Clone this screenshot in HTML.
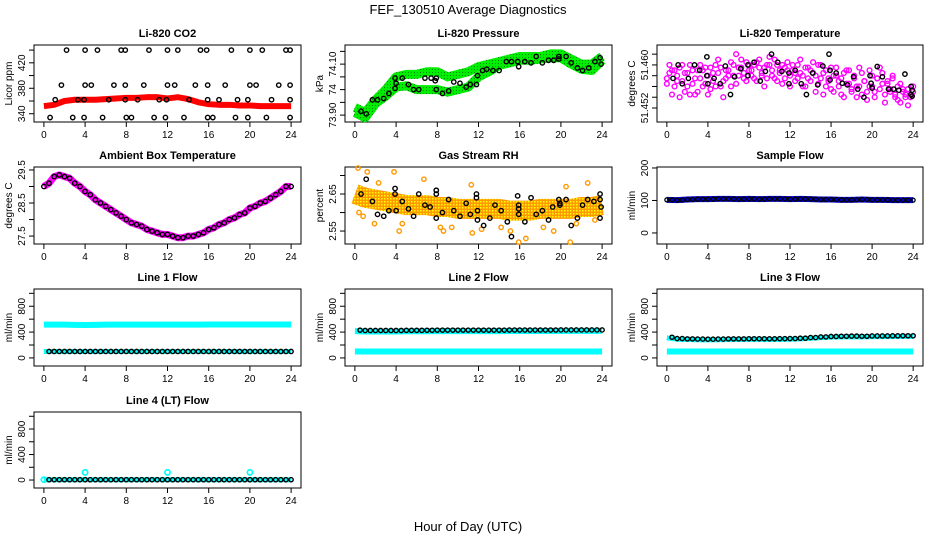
<!DOCTYPE html>
<html><head><meta charset="utf-8"><style>
html,body{margin:0;padding:0;background:#fff;}
svg{display:block;font-family:"Liberation Sans",Arial,sans-serif;}
</style></head><body>
<svg id="chart" width="936" height="540" viewBox="0 0 936 540" xmlns="http://www.w3.org/2000/svg">
<defs>
<pattern id="rhpat" width="3" height="3" patternUnits="userSpaceOnUse"><rect width="3" height="3" fill="#ff9900"/><rect width="1.5" height="1.5" fill="#ffff00"/></pattern>
<pattern id="grpat" width="3" height="3" patternUnits="userSpaceOnUse"><rect width="3" height="3" fill="#00ee00"/><rect width="1" height="1" fill="#008800"/></pattern>
</defs>
<text x="468" y="14" text-anchor="middle" font-size="13">FEF_130510  Average Diagnostics</text>
<text x="468" y="531" text-anchor="middle" font-size="13">Hour of Day (UTC)</text>
</svg>
<script>
// ---- data ----
const xTicks = [0,4,8,12,16,20,24];
const co2T = [2.2,4,5.2,7.5,7.9,10.2,12,13,15.2,15.8,18.2,20,21.2,23.5,23.9, 1.7,4,4.6,6.8,7.9,9.7,12,12.7,14.7,15.9,17.6,20,20.6,22.8,23.9, 1.1,3.3,3.9,6.3,7.9,9.1,11.2,11.9,14.1,15.9,17,18.8,19.8,22.1,23.9, 0.6,2.8,3.9,5.7,8,8.5,10.7,11.8,13.6,15.9,16.4,18.6,19.8,21.6,23.9];
const co2V = [440,440,440,440,440,440,440,440,440,440,440,440,440,440,440, 385,385,385,385,385,385,385,385,385,385,385,385,385,385,385, 362,362,362,362,362,362,362,362,362,362,362,362,362,362,362, 334,334,334,334,334,334,334,334,334,334,334,334,334,334,334];
const co2Band = [352,354,360,362,362,362,363,364,365,365,366,366,364,366,363,358,355,354,354,353,353,352,352,352,352];
const presUpper = [73.93,73.91,73.96,74.00,74.05,74.06,74.06,74.07,74.07,74.05,74.06,74.07,74.09,74.10,74.11,74.12,74.13,74.13,74.13,74.14,74.14,74.12,74.10,74.10,74.13];
const presLower = [73.91,73.89,73.945,73.975,74.01,74.015,74.00,74.00,74.00,73.99,74.00,74.01,74.05,74.07,74.095,74.105,74.115,74.115,74.12,74.125,74.125,74.10,74.08,74.075,74.115];
const presT = [0.6,1.1,1.7,2.2,2.8,3.3,3.9,3.9,4,4.6,5.2,5.7,6.2,6.8,7.4,7.8,7.9,7.9,8.5,9.1,9.6,10.2,10.8,11.2,11.8,11.9,12.4,12.8,13.4,14.0,14.7,15.2,15.8,15.9,16.5,17.1,17.6,18.2,18.8,19.3,19.8,19.8,20.5,21.0,21.6,22.1,22.7,23.3,23.8,23.9];
const presV = [73.915,73.905,73.96,73.96,73.965,73.985,74.005,74.045,74.025,74.045,74.02,74.0,74.0,74.045,74.045,74.035,74.045,74.0,73.985,73.995,74.03,74.025,74.01,74.02,74.02,74.055,74.075,74.08,74.075,74.075,74.11,74.11,74.11,74.09,74.11,74.105,74.13,74.105,74.115,74.115,74.12,74.13,74.13,74.105,74.085,74.075,74.085,74.11,74.125,74.10];
const tempA = [51.4575,51.4585,51.4590,51.4560,51.4580,51.4595,51.4570,51.4550,51.4585,51.4600,51.4565,51.4545,51.4590,51.4575,51.4560,51.4595,51.4580,51.4555,51.4570,51.4600,51.4585,51.4560,51.4540,51.4575,51.4590,51.4605,51.4580,51.4565,51.4595,51.4610,51.4585,51.4570,51.4600,51.4590,51.4575,51.4605,51.4595,51.4580,51.4560,51.4600,51.4615,51.4590,51.4575,51.4600,51.4585,51.4565,51.4595,51.4605,51.4580,51.4590,51.4570,51.4600,51.4585,51.4560,51.4595,51.4575,51.4590,51.4605,51.4580,51.4565,51.4600,51.4585,51.4560,51.4575,51.4595,51.4550,51.4580,51.4570,51.4545,51.4585,51.4565,51.4590,51.4555,51.4575,51.4540,51.4560,51.4585,51.4570,51.4535,51.4560,51.4580,51.4550,51.4575,51.4595,51.4565,51.4545,51.4570,51.4555,51.4580,51.4540,51.4560,51.4530,51.4555,51.4545,51.4525,51.4540,51.4560];
const tempB = [51.4565,51.4600,51.4545,51.4590,51.4570,51.4540,51.4600,51.4585,51.4560,51.4545,51.4590,51.4575,51.4550,51.4600,51.4590,51.4565,51.4545,51.4595,51.4585,51.4560,51.4610,51.4595,51.4570,51.4590,51.4580,51.4560,51.4600,51.4620,51.4580,51.4595,51.4575,51.4605,51.4590,51.4580,51.4600,51.4570,51.4610,51.4585,51.4595,51.4575,51.4600,51.4580,51.4610,51.4570,51.4590,51.4600,51.4575,51.4590,51.4560,51.4600,51.4585,51.4575,51.4610,51.4580,51.4560,51.4595,51.4570,51.4585,51.4550,51.4600,51.4575,51.4545,51.4590,51.4570,51.4555,51.4580,51.4595,51.4560,51.4575,51.4540,51.4590,51.4565,51.4550,51.4580,51.4560,51.4595,51.4545,51.4570,51.4550,51.4590,51.4560,51.4540,51.4575,51.4555,51.4585,51.4530,51.4565,51.4550,51.4575,51.4545,51.4535,51.4565,51.4550,51.4540,51.4555,51.4545,51.4550];
const tempT = [0.6,1.1,1.5,2.1,2.7,3.2,3.9,3.9,4,4.6,5.2,5.7,6.2,6.6,7.2,7.9,7.9,8.5,9.1,9.6,10.2,10.8,11.2,11.9,11.9,12.5,13.1,13.6,14.2,14.7,15.2,15.8,15.9,15.9,16.5,17.1,17.6,18.2,18.6,19.2,19.8,19.9,20,20.5,21,21.6,22.1,22.6,23.2,23.8,23.9,23.8,23.9];
const tempV = [51.4575,51.4600,51.4565,51.4575,51.4600,51.4590,51.4615,51.4580,51.4565,51.4575,51.4565,51.4598,51.4545,51.4578,51.4593,51.4580,51.4600,51.4605,51.4570,51.4588,51.4620,51.4605,51.4588,51.4585,51.4565,51.4590,51.4565,51.4545,51.4585,51.4563,51.4598,51.4620,51.4590,51.4572,51.4585,51.4566,51.4563,51.4578,51.4555,51.4540,51.4580,51.4566,51.4557,51.4597,51.4578,51.4555,51.4555,51.4553,51.4583,51.4560,51.4542,51.4545,51.4553];
const ambV = [29.0,29.1,29.3,29.35,29.3,29.25,29.1,29.0,28.85,28.75,28.6,28.5,28.4,28.3,28.2,28.1,28.0,27.9,27.85,27.8,27.7,27.65,27.6,27.55,27.55,27.5,27.45,27.45,27.5,27.5,27.55,27.6,27.7,27.75,27.85,27.9,28.0,28.05,28.15,28.2,28.35,28.4,28.5,28.55,28.65,28.75,28.85,29.0,29.0];
const rhBand = [2.65,2.64,2.635,2.63,2.625,2.62,2.62,2.62,2.615,2.615,2.61,2.61,2.61,2.61,2.61,2.605,2.605,2.605,2.61,2.61,2.61,2.61,2.615,2.615,2.62];
const rhOutT = [0.3,0.4,0.8,1.2,1.9,2.3,3.8,4.3,4.6,6.7,8.3,8.6,9.4,11.3,11.4,12.3,14.2,15.1,15.9,16.6,18.3,19.3,20.5,20.9,21.5,22.6,23.3];
const rhOutV = [2.72,2.60,2.59,2.71,2.57,2.68,2.71,2.55,2.57,2.69,2.56,2.55,2.56,2.675,2.545,2.555,2.56,2.55,2.52,2.53,2.56,2.55,2.67,2.52,2.57,2.68,2.58];
const rhT = [0.6,1.1,1.7,2.2,2.8,3.3,3.9,3.9,4,4.6,5.2,5.7,6.2,6.8,7.3,7.9,7.9,7.9,8.5,9.1,9.6,10.2,10.8,11.2,11.8,11.8,11.9,11.9,12.5,13.1,13.6,14.2,14.8,15.2,15.8,15.9,15.9,15.9,16.5,17.1,17.6,18.2,18.8,19.2,19.8,19.9,19.9,20.5,21,21.6,22.1,22.6,23.2,23.8,23.8,23.9,23.8];
const rhV = [2.65,2.69,2.63,2.595,2.59,2.605,2.665,2.65,2.605,2.63,2.61,2.59,2.65,2.62,2.615,2.66,2.65,2.585,2.60,2.635,2.605,2.59,2.625,2.595,2.65,2.64,2.605,2.58,2.565,2.585,2.62,2.605,2.575,2.535,2.645,2.62,2.61,2.595,2.575,2.64,2.595,2.605,2.58,2.615,2.635,2.62,2.625,2.635,2.565,2.585,2.62,2.635,2.63,2.65,2.635,2.615,2.585];
const sampleV = [102,101,103,104,104,105,105,104,105,104,105,105,104,105,104,103,103,102,102,103,102,102,101,101,101];
const line1Cyan = [515,515,515,512,510,512,515,515,515,515,515,515,515,515,516,516,517,517,517,517,517,517,517,517,517];
const line1Black = [100,100,100,100,100,100,100,100,100,100,100,100,100,100,100,100,100,100,100,100,100,100,100,100,100];
const line2Black = [430,425,425,425,425,427,427,428,430,430,430,430,430,430,430,432,432,432,432,432,433,433,433,433,433];
const line2Cyan = [100,100,100,100,100,100,100,100,100,100,100,100,100,100,100,100,100,100,100,100,100,100,100,100,100];
const line3Black = [320,300,295,292,290,292,295,295,297,297,296,298,300,305,315,325,332,335,338,335,340,340,342,343,343];
const line3Cyan = [100,100,100,100,100,100,100,100,100,100,100,100,100,100,100,100,100,100,100,100,100,100,100,100,100];
const line4Black = [5,5,5,5,5,5,5,5,5,5,5,5,5,5,5,5,5,5,5,5,5,5,5,5,5];
const line4SpikeT = [0,4,12,20];
const line4SpikeV = [5,120,120,120];

// ---- helpers ----
const svg = document.getElementById('chart');
const NS = 'http://www.w3.org/2000/svg';
function mk(tag, attrs, parent){ const e=document.createElementNS(NS,tag); for(const k in attrs) e.setAttribute(k,attrs[k]); (parent||svg).appendChild(e); return e; }
const colL=[34,345,657], colR=[301,612,923];
const rowT=[45,167,289,412], rowB=[122,244,366,488];
function makePanel(c,r,ymin,ymax,title,ylab,yTicks,yLabels,tickLabelsX){
  const L=colL[c],R=colR[c],T=rowT[r],B=rowB[r];
  const g=mk('g',{});
  
  
  const p={g,L,R,T,B,
    x:t=>L+(t+0.96)/25.92*(R-L),
    y:v=>B-(v-ymin)/(ymax-ymin)*(B-T)};
  const bx=mk('rect',{x:L,y:T,width:R-L,height:B-T,fill:'none',stroke:'#000','stroke-width':1},g);
   
  const tt=mk('text',{x:(L+R)/2,y:T-8,'text-anchor':'middle','font-size':11,'font-weight':'bold'},g);
  tt.textContent=title;
   
  const xa=mk('g',{},g);
   
  mk('line',{x1:p.x(xTicks[0]),x2:p.x(xTicks[xTicks.length-1]),y1:B,y2:B,stroke:'#000'},xa);
  xTicks.forEach(t=>{
    mk('line',{x1:p.x(t),x2:p.x(t),y1:B,y2:B+5,stroke:'#000'},xa);
    if(tickLabelsX){ const tx=mk('text',{x:p.x(t),y:B+16,'text-anchor':'middle','font-size':10},xa); tx.textContent=t;
        }
  });
  const ya=mk('g',{},g);
   
  mk('line',{x1:L,x2:L,y1:p.y(yTicks[0]),y2:p.y(yTicks[yTicks.length-1]),stroke:'#000'},ya);
  yTicks.forEach(v=>mk('line',{x1:L-5,x2:L,y1:p.y(v),y2:p.y(v),stroke:'#000'},ya));
  yLabels.forEach(([v,s])=>{ const tx=mk('text',{x:L-9,y:p.y(v),'text-anchor':'middle','font-size':10,transform:`rotate(-90 ${L-9} ${p.y(v)})`},ya); tx.textContent=s;
      });
  const yl=mk('text',{x:L-22,y:(T+B)/2,'text-anchor':'middle','font-size':10,transform:`rotate(-90 ${L-22} ${(T+B)/2})`},g);
  yl.textContent=ylab;
   
  return p;
}
function circles(p,ts,vs,color,r,sw,name){
  const g=mk('g',{},p.g);
   
  ts.forEach((t,i)=>mk('circle',{cx:p.x(t),cy:p.y(vs[i]),r:r||2.2,fill:'none',stroke:color,'stroke-width':sw||1.4},g));
  return g;
}
function band(p,vals,color,w,name){
  const pts=vals.map((v,i)=>p.x(i*24/(vals.length-1))+','+p.y(v)).join(' ');
  const e=mk('polyline',{points:pts,fill:'none',stroke:color,'stroke-width':w,'stroke-linejoin':'round','stroke-linecap':'butt'},p.g);
   
}
function idxT(arr){ return arr.map((_,i)=>i*24/(arr.length-1)); }
const halfT = ambV.map((_,i)=>i*0.5);

let p=makePanel(0,0,327,448,'Li-820 CO2','Licor ppm',[340,360,380,400,420,440],[[340,'340'],[380,'380'],[420,'420']],true);
band(p,co2Band,'#ff0000',6,'co2-band');
circles(p,co2T,co2V,'#000',2.2,1.4,'co2-points');

p=makePanel(1,0,73.873,74.175,'Li-820 Pressure','kPa',[73.9,73.95,74.0,74.05,74.1,74.15],[[73.9,'73.90'],[74.0,'74'],[74.1,'74.10']],true);
band(p,presUpper,'url(#grpat)',9,'pressure-band-upper');
band(p,presLower,'url(#grpat)',9,'pressure-band-lower');
circles(p,presT,presV,'#000',2.2,1.4,'pressure-points');

p=makePanel(2,0,51.4494,51.4637,'Li-820 Temperature','degrees C',[51.452,51.454,51.456,51.458,51.46,51.462],[[51.452,'51.452'],[51.46,'51.460']],true);
circles(p,idxT(tempA),tempA,'#ff00ff',2.4,1.4,'temp-points-a');
circles(p,idxT(tempB),tempB,'#ff00ff',2.4,1.4,'temp-points-b');
circles(p,tempT,tempV,'#000',2.2,1.4,'temp-points');

p=makePanel(0,1,27.26,29.59,'Ambient Box Temperature','degrees C',[27.5,28,28.5,29,29.5],[[27.5,'27.5'],[28.5,'28.5'],[29.5,'29.5']],true);
band(p,ambV,'#ff00ff',7,'ambient-band');
circles(p,halfT,ambV,'#000',2.2,1.4,'ambient-points');

p=makePanel(1,1,2.515,2.723,'Gas Stream RH','percent',[2.55,2.6,2.65,2.7],[[2.55,'2.55'],[2.65,'2.65']],true);
band(p,rhBand,'url(#rhpat)',20,'rh-band');
circles(p,rhOutT,rhOutV,'#ff9900',2.2,1.4,'rh-outliers');
circles(p,rhT,rhV,'#000',2.2,1.4,'rh-points');

p=makePanel(2,1,-34,203,'Sample Flow','ml/min',[0,100,200],[[0,'0'],[100,'100'],[200,'200']],true);
band(p,sampleV,'#0000cc',6,'sample-band');
circles(p,halfT,halfT.map((_,i)=>sampleV[Math.floor(i/2)]),'#000',2.0,1.3,'sample-points');

const flowTicks=[0,200,400,600,800,1000], flowLabels=[[0,'0'],[400,'400'],[800,'800']];
function halfOf(arr){ return halfT.map((_,i)=>arr[Math.floor(i/2)]); }
p=makePanel(0,2,-125,1067,'Line 1 Flow','ml/min',flowTicks,flowLabels,true);
band(p,line1Cyan,'#00ffff',6,'line1-cyan-band');
band(p,line1Black,'#00ffff',5,'line1-cyan-low');
circles(p,halfT.slice(1),halfOf(line1Black).slice(1),'#000',2.1,1.4,'line1-points');
p=makePanel(1,2,-125,1067,'Line 2 Flow','ml/min',flowTicks,flowLabels,true);
band(p,line2Black.map(v=>v-15),'#00ffff',6,'line2-cyan-high');
band(p,line2Cyan,'#00ffff',6,'line2-cyan-band');
circles(p,halfT.slice(1),halfOf(line2Black).slice(1),'#000',2.1,1.4,'line2-points');
p=makePanel(2,2,-125,1067,'Line 3 Flow','ml/min',flowTicks,flowLabels,true);
band(p,line3Black.map(v=>v-10),'#00ffff',5,'line3-cyan-high');
band(p,line3Cyan,'#00ffff',6,'line3-cyan-band');
circles(p,halfT.slice(1),halfOf(line3Black).slice(1),'#000',2.1,1.4,'line3-points');
p=makePanel(0,3,-125,1067,'Line 4 (LT) Flow','ml/min',flowTicks,flowLabels,true);
band(p,line4Black,'#00ffff',5,'line4-cyan-band');
circles(p,line4SpikeT,line4SpikeV,'#00ffff',2.6,1.7,'line4-spikes');
circles(p,halfT.slice(1),halfOf(line4Black).slice(1),'#000',2.1,1.4,'line4-points');
</script>
</body></html>
